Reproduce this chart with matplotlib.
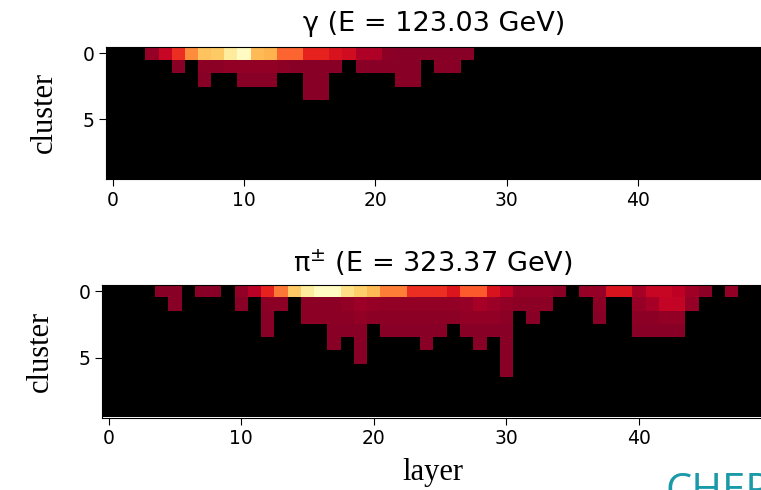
import numpy as np
import matplotlib.pyplot as plt

N_LAYERS = 50
N_CLUSTERS = 10

# scaled energy deposit per cell, {layer: value} for each cluster row (0 = no hit)
gamma_row0 = {3: .05, 4: .16, 5: .30, 6: .50, 7: .68, 8: .70, 9: .86, 10: .97,
              11: .65, 12: .63, 13: .42, 14: .42, 15: .27, 16: .27, 17: .22,
              18: .19, 19: .10, 20: .10, 21: .03, 22: .02, 23: .02, 24: .02,
              25: .02, 26: .02, 27: .02}
gamma_row1 = {5: .02, 7: .03, 8: .03, 9: .04, 10: .04, 11: .04, 12: .04, 13: .03,
              14: .02, 15: .02, 16: .02, 17: .02, 19: .02, 20: .02, 21: .02,
              22: .02, 23: .02, 25: .02, 26: .02}
gamma_row2 = {7: .02, 10: .02, 11: .02, 12: .02, 15: .02, 16: .02, 22: .02, 23: .02}
gamma_row3 = {15: .02, 16: .02}

pion_row0 = {4: .02, 5: .02, 7: .02, 8: .02, 10: .04, 11: .12, 12: .27, 13: .46,
             14: .70, 15: .87, 16: .97, 17: .97, 18: .80, 19: .72, 20: .65,
             21: .47, 22: .47, 23: .30, 24: .30, 25: .30, 26: .23, 27: .40,
             28: .40, 29: .22, 30: .14, 31: .05, 32: .05, 33: .05, 34: .03,
             36: .05, 37: .05, 38: .22, 39: .22, 40: .08, 41: .16, 42: .16,
             43: .13, 44: .07, 45: .03, 47: .04}
pion_row1 = {5: .02, 10: .02, 12: .03, 13: .03, 15: .03, 16: .03, 17: .03,
             18: .04, 19: .06, 20: .05, 21: .04, 22: .04, 23: .04, 24: .04,
             25: .04, 26: .04, 27: .05, 28: .08, 29: .06, 30: .04, 31: .03,
             32: .03, 33: .03, 37: .03, 40: .05, 41: .08, 42: .15, 43: .15,
             44: .05}
pion_row2 = {12: .02, 15: .03, 16: .03, 17: .03, 18: .03, 19: .04, 20: .03,
             21: .03, 22: .03, 23: .03, 24: .03, 25: .03, 26: .03, 27: .04,
             28: .04, 29: .04, 30: .03, 32: .02, 37: .02, 40: .03, 41: .03,
             42: .04, 43: .04}
pion_row3 = {12: .02, 17: .02, 18: .02, 19: .02, 21: .02, 22: .02, 23: .02,
             24: .02, 25: .02, 27: .02, 28: .02, 29: .02, 30: .02, 40: .02,
             41: .02, 42: .02, 43: .02}
pion_row4 = {17: .02, 19: .02, 24: .02, 28: .02, 30: .02}
pion_row5 = {19: .02, 30: .02}
pion_row6 = {30: .02}

gamma_title = 'γ (E = 123.03 GeV)'
pion_title = 'π$^{\\pm}$ (E = 323.37 GeV)'


def build_grid(rows):
    grid = np.zeros((N_CLUSTERS, N_LAYERS))
    for r, hits in enumerate(rows):
        for layer, val in hits.items():
            grid[r, layer] = val
    return np.ma.masked_equal(grid, 0)


def draw_event(ax, grid, title, pad):
    ax.imshow(grid, cmap=cmap, vmin=0, vmax=1, aspect='auto',
              interpolation='nearest')
    ax.set_title(title, fontsize=19.5, pad=pad)
    ax.set_xticks([0, 10, 20, 30, 40])
    ax.set_yticks([0, 5])
    ax.tick_params(labelsize=13.5, length=5)
    ax.set_ylabel('cluster', family='Liberation Serif', fontsize=22, labelpad=17)


plt.rcParams['mathtext.fontset'] = 'dejavusans'
cmap = plt.get_cmap('YlOrRd_r').copy()
cmap.set_bad('black')

gamma = build_grid([gamma_row0, gamma_row1, gamma_row2, gamma_row3])
pion = build_grid([pion_row0, pion_row1, pion_row2, pion_row3,
                   pion_row4, pion_row5, pion_row6])

fig = plt.figure(figsize=(7.61, 4.9), dpi=100)
ax_top = fig.add_axes([106 / 761, 1 - 178.7 / 490, 657 / 761, 132 / 490])
ax_bot = fig.add_axes([102 / 761, 1 - 417.5 / 490, 662.5 / 761, 133 / 490])

draw_event(ax_top, gamma, gamma_title, pad=11)
draw_event(ax_bot, pion, pion_title, pad=9)
ax_bot.set_xlabel('layer', family='Liberation Serif', fontsize=22, labelpad=7)

fig.text(665 / 761, 1 - 471 / 490, 'CHEP', color='#1a9aa8', fontsize=30,
         family='Open Sans', va='top', ha='left')

fig.savefig('out.png', dpi=100)
